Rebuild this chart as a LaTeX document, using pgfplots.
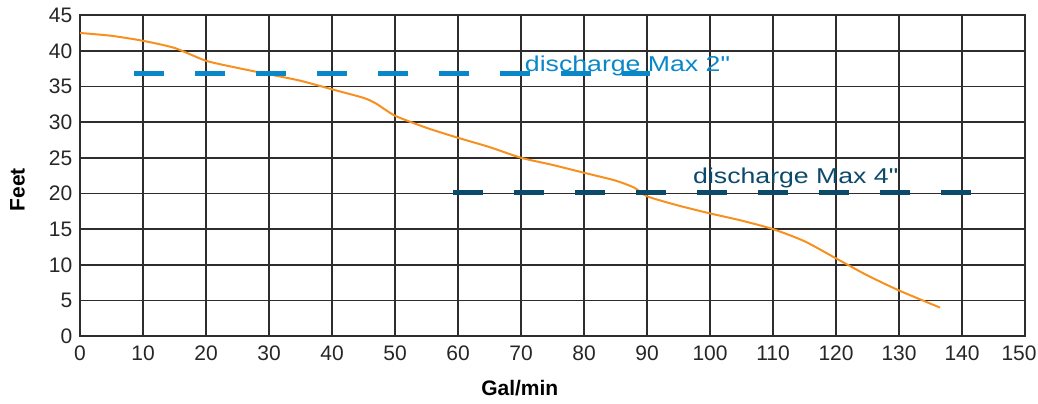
\documentclass[border=0pt]{standalone}
\usepackage{pgfplots}
\pgfplotsset{compat=1.18}
\usepackage{graphicx}
\usepackage{fontspec}
\setmainfont{Liberation Sans}
\newfontfamily\annfont{Liberation Sans}
\definecolor{curve}{HTML}{F7901E}
\definecolor{blueA}{HTML}{0A87C8}
\definecolor{blueB}{HTML}{0B4A6B}
\definecolor{gridc}{HTML}{2E2C2D}
\begin{document}
\begin{tikzpicture}[x=1bp,y=1bp]
\begin{axis}[
  scale only axis,
  width=945bp, height=321bp,
  xmin=0, xmax=150, ymin=0, ymax=45,
  xtick={0,10,...,150}, ytick={0,5,...,45},
  xticklabels={0,10,20,30,40,50,60,70,80,90,100,110,120,130,140,\hspace*{-12bp}150},
  grid=major,
  major grid style={gridc, line width=1.6bp},
  axis line style={gridc, line width=1.6bp},
  major tick length=0pt,
  tick label style={font=\fontsize{21bp}{23bp}\selectfont, text=black!85},
  /pgf/number format/assume math mode=true,
  xticklabel style={anchor=base, inner sep=0pt, yshift=-24.5bp},
  yticklabel style={anchor=east, inner sep=0pt, xshift=-7.5bp},
  xlabel={\bfseries Gal/min},
  ylabel={\bfseries Feet},
  label style={font=\fontsize{21bp}{24bp}\selectfont},
  xlabel style={at={(axis cs:69.8,-8.34)}, anchor=base, inner sep=0pt},
  ylabel style={at={(axis cs:-9.92,20.5)}, anchor=center, inner sep=0pt},
  clip=false,
]
\addplot[curve, line width=2bp, smooth, tension=0.4] coordinates {
(0,42.5) (5,42.1) (10,41.4) (15,40.4) (20,38.6) (25,37.6) (30,36.7) (35,35.8) (40,34.6) (45,33.4) (47,32.6) (50,30.9) (55,29.2) (60,27.8) (65,26.5) (70,25.0) (75,24.0) (80,22.9) (85,21.8) (88,20.8) (90,19.6) (95,18.3) (100,17.2) (105,16.2) (110,15.0) (115,13.3) (120,10.9) (125,8.5) (130,6.4) (136.5,4.0)
};
\addplot[blueA, line width=4.5bp, dash pattern=on 30bp off 31bp] coordinates {(8.6,36.8) (90.5,36.8)};
\addplot[blueB, line width=4.5bp, dash pattern=on 30bp off 31bp] coordinates {(59.2,20.1) (141.4,20.1)};
\node[anchor=base west, inner sep=0pt, text=blueA, font=\annfont\fontsize{21.5bp}{24bp}\selectfont] at (axis cs:70.6,37.07) {\scalebox{1.24}[1]{discharge Max 2"}};
\node[anchor=base west, inner sep=0pt, text=blueB, font=\annfont\fontsize{21.5bp}{24bp}\selectfont] at (axis cs:97.3,21.4) {\scalebox{1.24}[1]{discharge Max 4"}};
\coordinate (bbl) at (axis cs:-12.70,-9.40);
\coordinate (btr) at (axis cs:152.06,47.12);
\end{axis}
\pgfresetboundingbox
\path[use as bounding box] (bbl) rectangle (btr);
\end{tikzpicture}
\end{document}
